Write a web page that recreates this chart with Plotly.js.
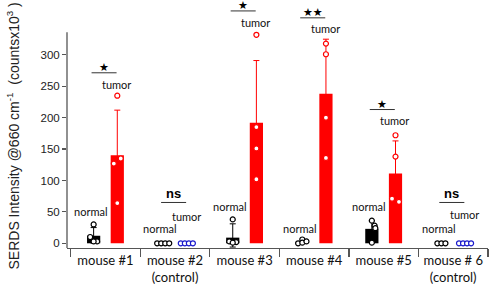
<!DOCTYPE html>
<html>
<head>
<meta charset="utf-8">
<script src="https://cdn.plot.ly/plotly-3.0.1.min.js"></script>
<style>html,body{margin:0;padding:0;background:#fff;}#chart{width:490px;height:287px;}</style>
</head>
<body>
<div id="chart"></div>
<script>
// ---- data ----
var categories = ['mouse #1', 'mouse #2<br>(control)', 'mouse #3', 'mouse #4', 'mouse #5', 'mouse # 6<br>(control)'];
var normalMean = [12, null, 9, 2, 23, null];
var normalErrPlus = [13, null, 22, null, 13, null];
var normalErrMinus = [12, null, 15, null, 13, null];
var tumorMean = [140, null, 192, 238, 111, null];
var tumorErr = [72, null, 99, 87, 52, null];
var normalPoints = [[30, 10, 3, 3], [0, 0, 0, 0], [38, 3, 2, 1], [0, 6, 1, 3], [36, 28, 24, 1], [0, 0, 0]];
var tumorPoints = [[235, 135, 127, 64], [0, 0, 0, 0], [332, 185, 151, 102], [318, 301, 200, 136], [172, 138, 71, 66], [0, 0, 0, 0]];
var sigText = ['★', 'ns', '★', '★★', '★', 'ns'];
var yTicks = [0, 50, 100, 150, 200, 250, 300];
var yTitle = 'SERDS Intensity @660 cm<sup>-1</sup>  (countsx10<sup>3</sup> )';

// ---- layout helpers (positions/styles) ----
var OFF = 0.17, BW = 0.19;
var controls = [1, 5];
var sigLineY = [271.5, 65, 370, 359, 213, 65];
var tumorLabY = [253, 43, 352, 342, 195, 46];
var normalLabY = [51, 24, 58, 24, 58, 24];
var jitterN = [[0, -0.05, 0.05, 0], null, [0, -0.05, 0.05, 0], [-0.06, 0, 0, 0.06], [0, 0.04, 0.05, 0], null];
var jitterT = [[0, 0.05, -0.05, 0], null, [0, 0, 0, 0], [0, 0, 0, 0], [0, 0, -0.05, 0.05], null];

var xC = categories.map(function (c, i) { return i + 0.5; });
var traces = [];
traces.push({type: 'bar', x: xC.map(function (c) { return c - OFF; }), y: normalMean, width: BW,
  marker: {color: '#000', line: {width: 0}},
  error_y: {type: 'data', array: normalErrPlus, arrayminus: normalErrMinus, color: '#000', thickness: 1, width: 3},
  hoverinfo: 'none'});
traces.push({type: 'bar', x: xC.map(function (c) { return c + OFF; }), y: tumorMean, width: BW,
  marker: {color: '#ff0000', line: {width: 0}},
  error_y: {type: 'data', array: tumorErr, color: '#ff0000', thickness: 1, width: 3},
  hoverinfo: 'none'});

function pointsTrace(pts, side, jit, color) {
  var xs = [], ys = [];
  pts.forEach(function (arr, i) {
    var center = xC[i] + side * OFF;
    arr.forEach(function (v, k) {
      var dx;
      if (controls.indexOf(i) >= 0) { dx = (k - (arr.length - 1) / 2) * 0.058; }
      else { dx = jit[i][k]; }
      xs.push(center + dx); ys.push(v);
    });
  });
  return {type: 'scatter', mode: 'markers', x: xs, y: ys, cliponaxis: false,
    marker: {symbol: 'circle', size: 5, color: '#fff', line: {color: color, width: 1.2}}, hoverinfo: 'none'};
}
var tumorMain = tumorPoints.map(function (a, i) { return controls.indexOf(i) >= 0 ? [] : a; });
var tumorCtrl = tumorPoints.map(function (a, i) { return controls.indexOf(i) >= 0 ? a : []; });
traces.push(pointsTrace(normalPoints, -1, jitterN, '#000'));
traces.push(pointsTrace(tumorMain, 1, jitterT, '#ff0000'));
traces.push(pointsTrace(tumorCtrl, 1, jitterT, '#1a1acc'));

var annotations = [], shapes = [];
var labFont = {family: 'Lato, sans-serif', size: 11, color: '#111'};
categories.forEach(function (c, i) {
  var cx = xC[i];
  shapes.push({type: 'line', xref: 'x', yref: 'y', x0: cx - 0.2, x1: cx + 0.16, y0: sigLineY[i], y1: sigLineY[i], line: {color: '#333', width: 1}});
  var isNs = sigText[i] === 'ns';
  annotations.push({x: cx - 0.02, y: sigLineY[i] + (isNs ? 0 : 8), xref: 'x', yref: 'y',
    yanchor: isNs ? 'bottom' : 'middle', yshift: isNs ? -1 : 0, showarrow: false,
    text: isNs ? '<b>ns</b>' : sigText[i],
    font: {family: isNs ? 'Liberation Sans, Arial, sans-serif' : 'DejaVu Sans, sans-serif', size: isNs ? 13 : 11, color: '#000'}});
  annotations.push({x: cx + 0.16, y: tumorLabY[i], xref: 'x', yref: 'y', showarrow: false, text: 'tumor', font: labFont});
  annotations.push({x: cx - 0.21, y: normalLabY[i], xref: 'x', yref: 'y', showarrow: false, text: 'normal', font: labFont});
});
// y-axis title as rotated text, centred where the reference places it
annotations.push({xref: 'paper', yref: 'paper', x: -0.128, y: 0.45, xanchor: 'center', yanchor: 'middle', textangle: -90,
  showarrow: false, text: yTitle, font: {family: 'Liberation Sans, Arial, sans-serif', size: 14, color: '#222'}});
shapes.push({type: 'line', xref: 'paper', yref: 'y', x0: 0, x1: 0, y0: -7.5, y1: 336, line: {color: '#555', width: 1.3}});

var layout = {
  width: 490, height: 287,
  margin: {l: 67, r: 2, t: 0, b: 39},
  paper_bgcolor: '#fff', plot_bgcolor: '#fff',
  showlegend: false, barmode: 'overlay',
  font: {family: 'Liberation Sans, Arial, sans-serif', color: '#222'},
  xaxis: {range: [-0.053, 6], tickmode: 'array', tickvals: xC, ticktext: categories, ticks: '', ticklen: 0,
    showline: true, linecolor: '#555', linewidth: 1.3, showgrid: false, zeroline: false,
    tickfont: {family: 'Lato, sans-serif', size: 13, color: '#111'},
    minor: {tickmode: 'array', tickvals: [0, 1, 2, 3, 4, 5, 6], ticks: 'outside', ticklen: 8, tickwidth: 1.3, tickcolor: '#555', showgrid: false}},
  yaxis: {range: [-7.5, 387.4], tickmode: 'array', tickvals: yTicks, ticktext: yTicks.map(String), ticks: 'outside', ticklen: 4, tickwidth: 1.2, tickcolor: '#555',
    showline: false, showgrid: false, zeroline: false,
    tickfont: {family: 'Liberation Sans, Arial, sans-serif', size: 11.5, color: '#222'}},
  annotations: annotations, shapes: shapes
};
Plotly.newPlot('chart', traces, layout, {staticPlot: true, displayModeBar: false});
</script>
</body>
</html>
